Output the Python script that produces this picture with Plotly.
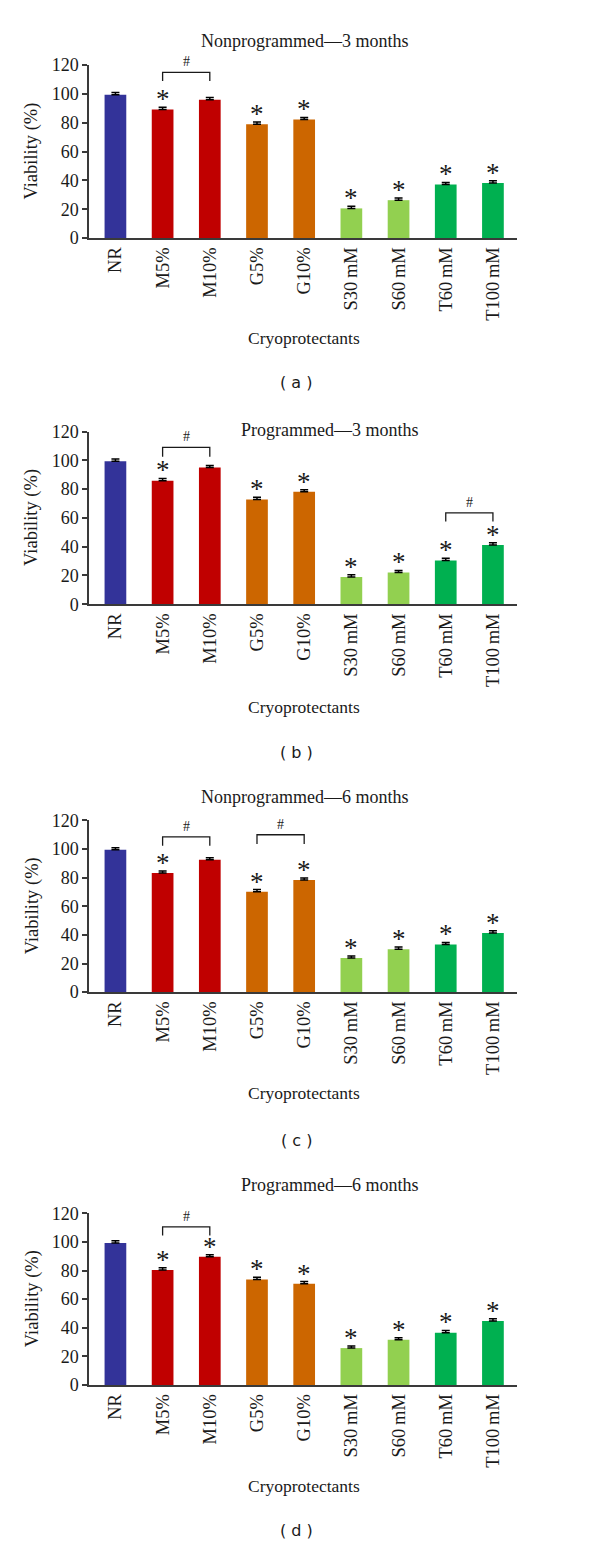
import plotly.graph_objects as go

# ---------------- data ----------------
categories = ["NR", "M5%", "M10%", "G5%", "G10%",
              "S30\u2009mM", "S60\u2009mM", "T60\u2009mM", "T100\u2009mM"]
bar_colors = ["#333399", "#C00000", "#C00000", "#CC6600", "#CC6600",
              "#92D050", "#92D050", "#00B050", "#00B050"]

titles = ["Nonprogrammed\u20143 months", "Programmed\u20143 months",
          "Nonprogrammed\u20146 months", "Programmed\u20146 months"]
panel_labels = ["( a )", "( b )", "( c )", "( d )"]

a_values = [99.4, 89.2, 96.0, 79.0, 82.2, 20.6, 26.3, 37.1, 38.2]
b_values = [99.4, 85.9, 95.0, 72.8, 78.1, 19.0, 22.0, 30.5, 41.2]
c_values = [99.5, 83.2, 92.5, 70.2, 78.3, 23.8, 30.0, 33.3, 41.4]
d_values = [99.3, 80.4, 89.6, 73.8, 70.8, 25.8, 31.6, 36.6, 44.8]

a_errors = [1.5, 1.5, 1.5, 1.5, 1.5, 1.5, 1.5, 1.5, 1.5]
b_errors = [1.5, 1.5, 1.5, 1.5, 1.5, 1.5, 1.5, 1.5, 1.5]
c_errors = [1.5, 1.5, 1.5, 1.5, 1.5, 1.5, 1.5, 1.5, 1.5]
d_errors = [1.5, 1.5, 1.5, 1.5, 1.5, 1.5, 1.5, 1.5, 1.5]

a_stars = [0, 1, 0, 1, 1, 1, 1, 1, 1]
b_stars = [0, 1, 0, 1, 1, 1, 1, 1, 1]
c_stars = [0, 1, 0, 1, 1, 1, 1, 1, 1]
d_stars = [0, 1, 1, 1, 1, 1, 1, 1, 1]

# brackets: (from category, to category, top value, leg-bottom value)
a_brackets = [(1, 2, 115.0, 109.0)]
b_brackets = [(1, 2, 109.0, 102.5), (7, 8, 63.5, 57.5)]
c_brackets = [(1, 2, 108.5, 102.3), (3, 4, 110.0, 103.5)]
d_brackets = [(1, 2, 110.5, 104.5)]

y_ticks = [0, 20, 40, 60, 80, 100, 120]

panels = [
    (a_values, a_errors, a_stars, a_brackets),
    (b_values, b_errors, b_stars, b_brackets),
    (c_values, c_errors, c_stars, c_brackets),
    (d_values, d_errors, d_stars, d_brackets),
]

# ---------------- layout geometry (page pixels) ----------------
OFF = 8                     # default body margin of the html page
W, H = 600 - 2 * OFF, 1556 - 2 * OFF
x_left, x_right = 89, 517
plot_px = [(55.7, 231), (427, 602), (821, 995), (1219, 1393)]  # (top=120, bottom=0)
title_px = [(304, 31), (330, 425), (304, 797), (330, 1190)]
xtitle_y = [332, 706, 1097, 1495]
label_y = [377, 752, 1145, 1540]

SERIF = "Liberation Serif, Times New Roman, serif"
AX = "#3a3a3a"
TXT = "#1a1a1a"


def px_x(x):
    return (x - OFF) / W


def px_y(y):
    return 1 - (y - OFF) / H


fig = go.Figure()
annotations = []
shapes = []

for i, (vals, errs, stars, brackets) in enumerate(panels):
    n = "" if i == 0 else str(i + 1)
    xa, ya = "x" + n, "y" + n
    fig.add_trace(go.Bar(
        x=categories, y=vals, xaxis=xa, yaxis=ya,
        marker=dict(color=bar_colors, line=dict(width=0)),
        width=0.46,
        error_y=dict(type="data", array=errs, arrayminus=[0] * len(errs),
                     symmetric=False, visible=True,
                     color="#000000", thickness=1.5, width=4),
        showlegend=False, hoverinfo="x+y",
    ))
    top, bot = plot_px[i]
    fig.layout["xaxis" + n] = dict(
        domain=[px_x(x_left), px_x(x_right)], anchor=ya,
        type="category", range=[-0.56, 8.51],
        showline=True, linecolor=AX, linewidth=1.5,
        ticks="", tickangle=-90,
        tickfont=dict(family=SERIF, size=18.5, color=TXT),
        showgrid=False, zeroline=False, fixedrange=True,
    )
    fig.layout["yaxis" + n] = dict(
        domain=[px_y(bot), px_y(top)], anchor=xa,
        range=[0, 120], tickvals=y_ticks,
        showline=True, linecolor=AX, linewidth=1.5,
        ticks="outside", ticklen=5, tickcolor=AX, tickwidth=1.5,
        tickfont=dict(family=SERIF, size=18, color=TXT),
        showgrid=False, zeroline=False, fixedrange=True,
    )
    # y-axis title
    annotations.append(dict(
        text="Viability (%)", xref="paper", yref="paper",
        x=px_x(32), y=px_y((top + bot) / 2), textangle=-90,
        showarrow=False, xanchor="center", yanchor="middle",
        font=dict(family=SERIF, size=18.5, color=TXT)))
    # panel title
    tx, ty = title_px[i]
    annotations.append(dict(
        text=titles[i], xref="paper", yref="paper",
        x=px_x(tx), y=px_y(ty), showarrow=False,
        xanchor="center", yanchor="middle",
        font=dict(family=SERIF, size=18, color=TXT)))
    # x-axis title
    annotations.append(dict(
        text="Cryoprotectants", xref="paper", yref="paper",
        x=px_x(304), y=px_y(xtitle_y[i]), showarrow=False,
        xanchor="center", yanchor="middle",
        font=dict(family=SERIF, size=17.5, color=TXT)))
    # panel label
    annotations.append(dict(
        text=panel_labels[i], xref="paper", yref="paper",
        x=px_x(296), y=px_y(label_y[i]), showarrow=False,
        xanchor="center", yanchor="middle",
        font=dict(family="DejaVu Sans, sans-serif", size=16, color=TXT)))
    # asterisks
    for k, s in enumerate(stars):
        if s:
            annotations.append(dict(
                text="*", xref=xa, yref=ya, x=k, y=vals[k] + errs[k],
                showarrow=False, xanchor="center", yanchor="bottom",
                yshift=-9,
                font=dict(family=SERIF, size=27, color=TXT)))
    # significance brackets
    for (p, q, ytop, yleg) in brackets:
        shapes.append(dict(type="path",
                           path=f"M {p} {yleg} L {p} {ytop} L {q} {ytop} L {q} {yleg}",
                           xref=xa, yref=ya,
                           line=dict(color=TXT, width=1.3)))
        annotations.append(dict(
            text="#", xref=xa, yref=ya, x=(p + q) / 2, y=ytop,
            showarrow=False, xanchor="center", yanchor="bottom", yshift=1,
            font=dict(family=SERIF, size=14, color=TXT)))

fig.update_layout(
    width=W, height=H,
    margin=dict(l=0, r=0, t=0, b=0),
    paper_bgcolor="white", plot_bgcolor="white",
    showlegend=False, bargap=0.5,
    annotations=annotations, shapes=shapes,
)

fig.write_html("out.html")
